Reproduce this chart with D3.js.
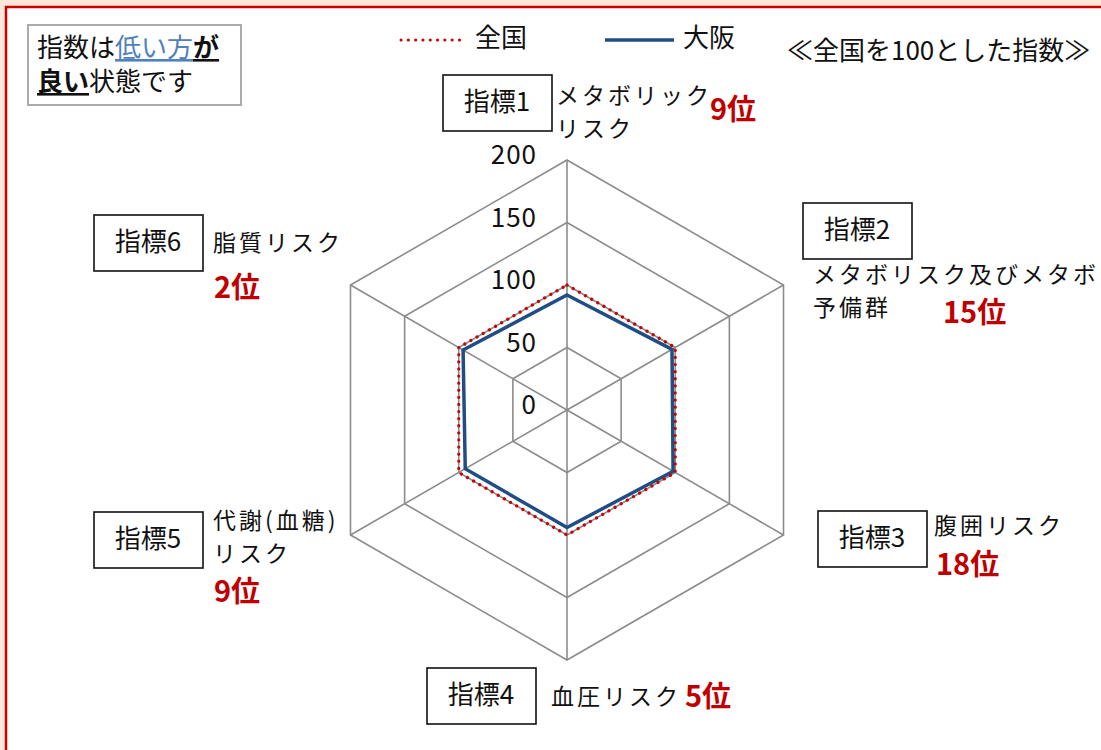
<!DOCTYPE html>
<html>
<head>
<meta charset="utf-8">
<script src="https://cdn.jsdelivr.net/npm/d3@7"></script>
<style>
  body { margin: 0; background: #fde9d9; }
  svg text { font-family: "Noto Sans CJK JP", "Noto Sans", sans-serif; fill: #111; }
</style>
</head>
<body>
<div id="chart"></div>
<script>
let svgWidth = 1101;
let svgHeight = 750;

// data
let indicators = ["指標1", "指標2", "指標3", "指標4", "指標5", "指標6"];
let riskNames = [["メタボリック", "リスク"], ["メタボリスク及びメタボ", "予備群"], ["腹囲リスク"], ["血圧リスク"], ["代謝(血糖)", "リスク"], ["脂質リスク"]];
let ranks = ["9位", "15位", "18位", "5位", "9位", "2位"];
let zenkoku = [100, 100, 100, 100, 100, 100];
let osaka = [92, 97, 98, 94, 94, 96];
let ticks = [0, 50, 100, 150, 200];

let cx = 567, cy = 410;

let svg = d3.select("#chart")
  .append("svg")
  .attr("width", svgWidth)
  .attr("height", svgHeight);

// white panel with red border
svg.append("rect")
  .attr("x", 6).attr("y", 7)
  .attr("width", svgWidth + 20).attr("height", svgHeight + 20)
  .attr("fill", "#fff")
  .attr("stroke", "#cc0000")
  .attr("stroke-width", 2.5);

let r = d3.scaleLinear().domain([0, 200]).range([0, 250]);
let angle = d3.scalePoint().domain(d3.range(indicators.length)).range([0, 2 * Math.PI * 5 / 6]);

let chartGroup = svg.append("g")
  .attr("transform", `translate(${cx}, ${cy})`);

// grid rings
let ring = d3.lineRadial()
  .angle((d, i) => angle(i))
  .radius(d => r(d))
  .curve(d3.curveLinearClosed);

ticks.slice(1).forEach(t => {
  chartGroup.append("path")
    .attr("d", ring(indicators.map(() => t)))
    .attr("fill", "none")
    .attr("stroke", "#8c8c8c")
    .attr("stroke-width", 1.6);
});

// spokes
indicators.forEach((d, i) => {
  let a = angle(i);
  chartGroup.append("line")
    .attr("x1", 0).attr("y1", 0)
    .attr("x2", r(200) * Math.sin(a))
    .attr("y2", -r(200) * Math.cos(a))
    .attr("stroke", "#8c8c8c")
    .attr("stroke-width", 1.6);
});

// tick labels
chartGroup.selectAll(".tick")
  .data(ticks)
  .enter()
  .append("text")
  .attr("x", -30)
  .attr("y", d => -r(d))
  .attr("dy", "-0.1em")
  .attr("text-anchor", "end")
  .attr("dominant-baseline", "middle")
  .style("font-size", "26px")
  .style("letter-spacing", "1px")
  .text(d => d);

// series
chartGroup.append("path")
  .attr("d", ring(osaka))
  .attr("fill", "none")
  .attr("stroke", "#1f4e85")
  .attr("stroke-width", 3.5)
  .attr("stroke-linejoin", "miter");

chartGroup.append("path")
  .attr("d", ring(zenkoku))
  .attr("fill", "none")
  .attr("stroke", "#cc0000")
  .attr("stroke-width", 3.2)
  .attr("stroke-linecap", "round")
  .attr("stroke-dasharray", "0.1 7");

// indicator boxes and labels
let boxes = [
  {x: 443, y: 75}, {x: 803, y: 203}, {x: 818, y: 511},
  {x: 427, y: 668}, {x: 94, y: 512}, {x: 94, y: 215}
];
let names = [
  {x: 556, y: 98}, {x: 813, y: 277}, {x: 934, y: 528},
  {x: 551, y: 699}, {x: 213, y: 523}, {x: 213, y: 245}
];
let rankPos = [
  {x: 710, y: 112}, {x: 943, y: 315}, {x: 936, y: 567},
  {x: 685, y: 699}, {x: 214, y: 594}, {x: 214, y: 290}
];

indicators.forEach((d, i) => {
  let b = boxes[i];
  svg.append("rect")
    .attr("x", b.x).attr("y", b.y)
    .attr("width", 109).attr("height", 56)
    .attr("fill", "#fff")
    .attr("stroke", "#111")
    .attr("stroke-width", 1.6);
  svg.append("text")
    .attr("x", b.x + 54).attr("y", b.y + 29)
    .attr("text-anchor", "middle")
    .attr("dominant-baseline", "middle")
    .style("font-size", "26px")
    .text(d);

  riskNames[i].forEach((line, j) => {
    svg.append("text")
      .attr("x", names[i].x).attr("y", names[i].y + j * 33)
      .attr("dominant-baseline", "middle")
      .style("font-size", "23px")
      .style("letter-spacing", "3px")
      .text(line);
  });

  svg.append("text")
    .attr("x", rankPos[i].x).attr("y", rankPos[i].y)
    .attr("dominant-baseline", "middle")
    .style("font-size", "29px")
    .style("font-weight", "bold")
    .style("fill", "#c00000")
    .text(ranks[i]);
});

// note box
svg.append("rect")
  .attr("x", 28).attr("y", 25)
  .attr("width", 213).attr("height", 80)
  .attr("fill", "#fff")
  .attr("stroke", "#aaa")
  .attr("stroke-width", 2);

let note1 = svg.append("text")
  .attr("x", 37).attr("y", 50)
  .attr("dominant-baseline", "middle")
  .style("font-size", "26px");
note1.append("tspan").text("指数は");
note1.append("tspan").style("fill", "#4f81bd").style("text-decoration", "underline").text("低い方");
note1.append("tspan").style("font-weight", "bold").style("text-decoration", "underline").text("が");

let note2 = svg.append("text")
  .attr("x", 37).attr("y", 84)
  .attr("dominant-baseline", "middle")
  .style("font-size", "26px");
note2.append("tspan").style("font-weight", "bold").style("text-decoration", "underline").text("良い");
note2.append("tspan").text("状態です");

// legend
let legend = svg.append("g");
legend.append("line")
  .attr("x1", 401).attr("x2", 466).attr("y1", 40).attr("y2", 40)
  .attr("stroke", "#cc0000").attr("stroke-width", 3)
  .attr("stroke-linecap", "round").attr("stroke-dasharray", "0.1 7.2");
legend.append("text")
  .attr("x", 475).attr("y", 40)
  .attr("dominant-baseline", "middle")
  .style("font-size", "26px")
  .text("全国");
legend.append("line")
  .attr("x1", 605).attr("x2", 674).attr("y1", 40).attr("y2", 40)
  .attr("stroke", "#1f4e85").attr("stroke-width", 3.5);
legend.append("text")
  .attr("x", 683).attr("y", 40)
  .attr("dominant-baseline", "middle")
  .style("font-size", "26px")
  .text("大阪");

svg.append("text")
  .attr("x", 787).attr("y", 53)
  .attr("dominant-baseline", "middle")
  .style("font-size", "26px")
  .text("≪全国を100とした指数≫");
</script>
</body>
</html>
